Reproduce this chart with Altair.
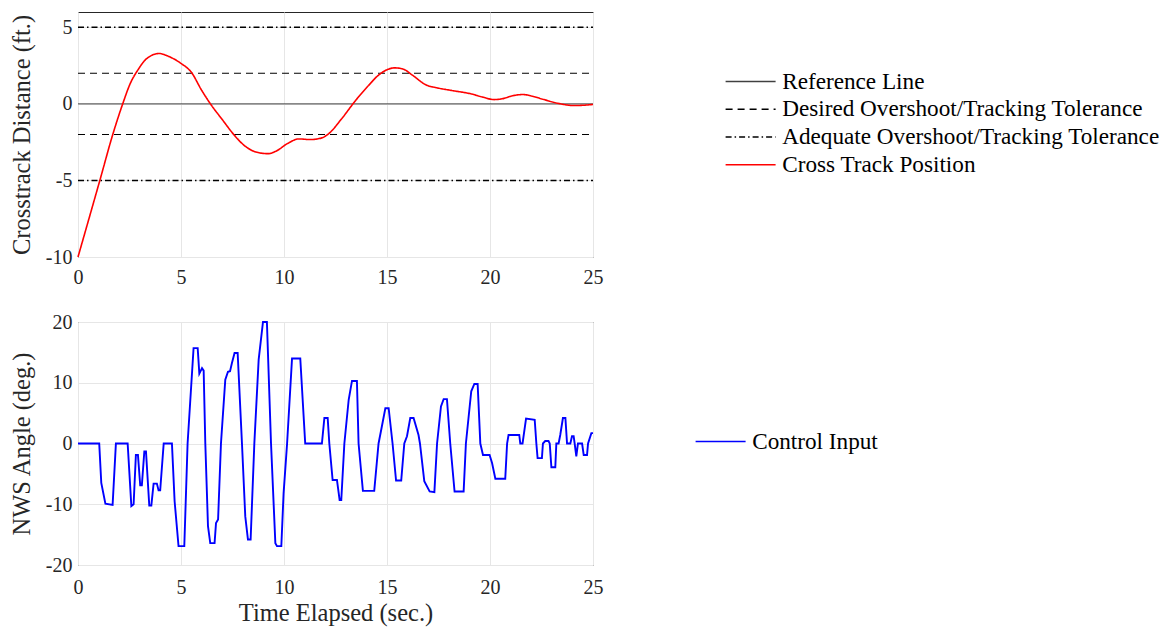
import altair as alt
import pandas as pd

# ---- data ----
track_t = [0, 1.06, 1.71, 2.17, 2.55, 2.92, 3.29, 3.94, 4.4, 4.96, 5.52, 5.98, 6.45, 7.0, 7.56,
           8.12, 8.68, 9.24, 9.61, 10.17, 10.72, 11.28, 11.84, 12.21, 12.77, 13.51, 14.07,
           14.63, 15.37, 15.74, 16.3, 16.86, 17.42, 18.16, 19.09, 19.65, 20.2, 20.58, 21.13,
           21.6, 22.06, 22.62, 23.36, 24.1, 25]
track_v = [-10, -5, -1.9, 0, 1.37, 2.24, 2.9, 3.29, 3.1, 2.68, 2.03, 0.94, -0.04, -1.02, -2.0,
           -2.77, -3.16, -3.25, -3.09, -2.59, -2.29, -2.33, -2.22, -1.9, -1.02, 0.28, 1.15,
           1.92, 2.35, 2.29, 1.81, 1.26, 1.05, 0.87, 0.65, 0.44, 0.28, 0.33, 0.54,
           0.61, 0.5, 0.28, 0.02, -0.11, -0.04]

nws_t = [0, 1.03, 1.13, 1.33, 1.68, 1.84, 2.41, 2.59, 2.70, 2.81, 2.91, 3.02, 3.10, 3.22, 3.30,
         3.46, 3.56, 3.67, 3.83, 3.91, 3.99, 4.16, 4.56, 4.69, 4.88, 5.16, 5.32, 5.61, 5.81,
         5.89, 6.02, 6.10, 6.18, 6.31, 6.42, 6.63, 6.70, 6.80, 6.94, 7.15, 7.28, 7.38, 7.47,
         7.60, 7.75, 7.96, 8.12, 8.25, 8.38, 8.56, 8.77, 8.98, 9.17, 9.37, 9.58, 9.66, 9.87,
         9.98, 10.15, 10.39, 10.79, 11.03, 11.84, 11.96, 12.12, 12.20, 12.36, 12.57, 12.70,
         12.78, 12.93, 13.14, 13.30, 13.54, 13.62, 13.83, 14.38, 14.59, 14.75, 14.92, 15.08,
         15.27, 15.44, 15.69, 15.84, 15.97, 16.13, 16.29, 16.53, 16.60, 16.81, 17.07, 17.30,
         17.43, 17.62, 17.75, 17.91, 18.07, 18.28, 18.72, 18.83, 19.09, 19.24, 19.40, 19.53,
         19.66, 19.98, 20.10, 20.26, 20.74, 20.83, 20.90, 21.42, 21.47, 21.58, 21.75, 22.17,
         22.25, 22.31, 22.52, 22.57, 22.68, 22.84, 22.90, 22.98, 23.17, 23.22, 23.33, 23.41,
         23.54, 23.66, 23.74, 23.90, 23.98, 24.06, 24.11, 24.19, 24.27, 24.47, 24.55, 24.71,
         24.76, 24.92, 25.0]
nws_v = [0, 0, -6.5, -9.9, -10.1, 0, 0, -10.3, -10, -1.9, -1.9, -6.9, -6.9, -1.3, -1.3,
         -10.2, -10.2, -6.6, -6.6, -7.7, -7.7, 0, 0, -9.5, -16.9, -16.9, 0, 15.7, 15.7,
         11.5, 12.4, 12, 0, -13.6, -16.4, -16.4, -13.1, -12.5, 0, 10.5, 11.8, 11.9, 13.2,
         14.9, 14.9, 0, -12, -15.8, -15.8, 0, 13.8, 20, 20, 0, -16.4, -16.9, -16.9,
         -8.2, 0, 14, 14, 0, 0, 4.2, 4.2, 0, -6.0, -6.0, -9.3,
         -9.3, 0, 7.2, 10.3, 10.3, 0, -7.8, -7.8, 0, 2.8, 5.8, 5.8,
         0, -6.1, -6.1, 0, 1.2, 4.2, 4.2, 1.4, 0, -6.2, -7.9, -8,
         0, 6.1, 7.3, 7.3, 0, -7.9, -7.9, 0, 8.6, 9.8, 9.8, 0,
         -1.9, -1.9, -3.2, -5.8, -5.8, 0, 1.4, 1.4, 0, 0, 4.1, 3.9,
         0, -2.4, -2.4, 0, 0.4, 0.4, 0, -3.9, -3.9, 0, 0, 1.4,
         4.2, 4.2, 0, 0, 1.2, 1.2, 0, -2.1, 0, 0, -1.9, -1.9,
         0, 1.7, 1.7]

series_names = ["Reference Line", "Desired Overshoot/Tracking Tolerance",
                "Adequate Overshoot/Tracking Tolerance", "Cross Track Position"]
ref_levels = [0]
desired_levels = [2, -2]
adequate_levels = [5, -5]
x_span = [0, 25]

x_ticks = [0, 5, 10, 15, 20, 25]
top_y_ticks = [-10, -5, 0, 5]
bot_y_ticks = [-20, -10, 0, 10, 20]

# ---- build tables ----
rows = []
for i, lvl in enumerate(ref_levels):
    for x in x_span:
        rows.append({"t": x, "v": lvl, "series": series_names[0], "id": f"r{i}"})
for i, lvl in enumerate(desired_levels):
    for x in x_span:
        rows.append({"t": x, "v": lvl, "series": series_names[1], "id": f"d{i}"})
for i, lvl in enumerate(adequate_levels):
    for x in x_span:
        rows.append({"t": x, "v": lvl, "series": series_names[2], "id": f"a{i}"})
lines_df = pd.DataFrame(rows)
track_df = pd.DataFrame({"t": track_t, "v": track_v, "series": series_names[3], "id": "track"})
nws_df = pd.DataFrame({"t": nws_t, "v": nws_v, "series": "Control Input"})

FONT = "Liberation Serif"
TXT = "#262626"

legend_common = dict(title=None, orient="none", symbolType="M-5,0H5", symbolSize=100,
                     symbolStrokeWidth=1.5, labelFont=FONT, labelFontSize=23.2,
                     labelColor="#000000", rowPadding=3.7, labelOffset=20, labelLimit=0)

color_scale = alt.Scale(domain=series_names, range=["#404040", "#000000", "#000000", "#ff0000"])
dash_scale = alt.Scale(domain=series_names, range=[[1, 0], [7, 5], [6, 3, 1.5, 3], [1, 0]])
width_scale = alt.Scale(domain=series_names, range=[1, 1.6, 1.6, 1.8])

top_legend = alt.Legend(legendX=661, legendY=58, **legend_common)

LBL = "datum.value + ''"
x_axis_top = alt.Axis(values=x_ticks, title=None, ticks=False, labelPadding=10,
                      labelFlush=False, labelExpr=LBL)
x_axis_bot = alt.Axis(values=x_ticks, title="Time Elapsed (sec.)", ticks=False,
                      labelPadding=12, titlePadding=4, labelFlush=False, labelExpr=LBL)

top = alt.Chart(pd.concat([lines_df, track_df])).mark_line(interpolate="monotone").encode(
    x=alt.X("t:Q", scale=alt.Scale(domain=[0, 25], nice=False), axis=x_axis_top),
    y=alt.Y("v:Q", scale=alt.Scale(domain=[-10, 6], nice=False),
            axis=alt.Axis(values=top_y_ticks, title="Crosstrack Distance (ft.)", ticks=False,
                          labelPadding=6, titlePadding=11, labelExpr=LBL)),
    color=alt.Color("series:N", scale=color_scale, legend=top_legend),
    strokeDash=alt.StrokeDash("series:N", scale=dash_scale, legend=top_legend),
    strokeWidth=alt.StrokeWidth("series:N", scale=width_scale, legend=None),
    detail="id:N",
).properties(width=515, height=245)

bot_legend = alt.Legend(legendX=631, legendY=108, **legend_common)
bottom = alt.Chart(nws_df).mark_line(strokeWidth=1.9).encode(
    x=alt.X("t:Q", scale=alt.Scale(domain=[0, 25], nice=False), axis=x_axis_bot),
    y=alt.Y("v:Q", scale=alt.Scale(domain=[-20, 20], nice=False),
            axis=alt.Axis(values=bot_y_ticks, title="NWS Angle (deg.)", ticks=False,
                          labelPadding=6, titlePadding=11, labelExpr=LBL)),
    color=alt.Color("series:N", scale=alt.Scale(domain=["Control Input"], range=["#0000ff"]),
                    legend=bot_legend),
).properties(width=515, height=243)

chart = alt.vconcat(top, bottom, spacing=23).resolve_scale(
    color="independent", strokeDash="independent", x="independent", y="independent"
).resolve_legend(color="independent", strokeDash="independent").configure(
    padding={"left": 0, "top": 3, "right": 0, "bottom": 2}, background="white"
).configure_view(stroke="#262626", strokeWidth=1).configure_axis(
    labelFont=FONT, labelFontSize=20, labelColor=TXT, titleFont=FONT, titleFontSize=24.5,
    titleFontWeight="normal", titleColor=TXT, gridColor="#e6e6e6", gridWidth=1,
    domain=False,
)

chart.save("out.html", embed_options={"renderer": "svg", "actions": False})
